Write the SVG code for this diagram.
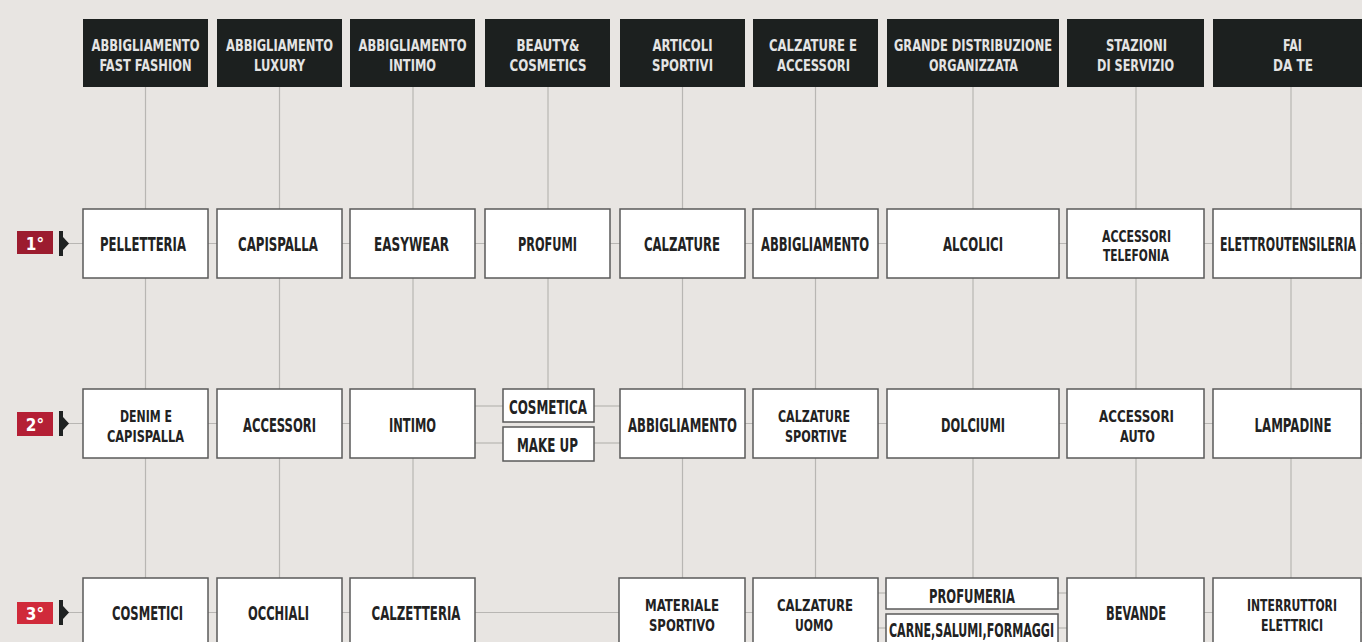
<svg xmlns="http://www.w3.org/2000/svg" width="1362" height="642" viewBox="0 0 1362 642">
<style>
.bg{fill:#e8e5e2}
.hd{fill:#1c201f}
.ht{font-family:"Liberation Sans Narrow","DejaVu Sans Condensed","Liberation Sans",sans-serif;font-weight:bold;font-size:16.5px;fill:#e4e4e4;text-anchor:middle}
.bx{fill:#ffffff;stroke:#5a5a5a;stroke-width:1.5}
.bt{font-family:"Liberation Sans Narrow","DejaVu Sans Condensed","Liberation Sans",sans-serif;font-weight:bold;font-size:19px;fill:#222222;text-anchor:middle}
.b2{font-family:"Liberation Sans Narrow","DejaVu Sans Condensed","Liberation Sans",sans-serif;font-weight:bold;font-size:16.5px;fill:#222222;text-anchor:middle}
.ln{stroke:#b8b6b3;stroke-width:1.2;fill:none}
.rk{font-family:"Liberation Sans Narrow","DejaVu Sans Condensed","Liberation Sans",sans-serif;font-weight:bold;font-size:17px;fill:#ffffff;text-anchor:middle}
.br{fill:#1f2222}
</style>
<rect class="bg" x="0" y="0" width="1362" height="642"/>

<g id="connectors">
  <line class="ln" x1="145.5" y1="87" x2="145.5" y2="578"/>
  <line class="ln" x1="279.5" y1="87" x2="279.5" y2="578"/>
  <line class="ln" x1="413" y1="87" x2="413" y2="578"/>
  <line class="ln" x1="548" y1="87" x2="548" y2="389"/>
  <line class="ln" x1="682.5" y1="87" x2="682.5" y2="578"/>
  <line class="ln" x1="815.5" y1="87" x2="815.5" y2="578"/>
  <line class="ln" x1="973" y1="87" x2="973" y2="578"/>
  <line class="ln" x1="1136" y1="87" x2="1136" y2="578"/>
  <line class="ln" x1="1291" y1="87" x2="1291" y2="578"/>
  <line class="ln" x1="68" y1="243.5" x2="1362" y2="243.5"/>
  <line class="ln" x1="68" y1="423.5" x2="475" y2="423.5"/>
  <line class="ln" x1="475" y1="406" x2="503" y2="406"/>
  <line class="ln" x1="475" y1="443" x2="503" y2="443"/>
  <line class="ln" x1="594" y1="406" x2="620" y2="406"/>
  <line class="ln" x1="594" y1="443" x2="620" y2="443"/>
  <line class="ln" x1="620" y1="423.5" x2="1362" y2="423.5"/>
  <line class="ln" x1="68" y1="612.5" x2="878" y2="612.5"/>
  <line class="ln" x1="878" y1="593" x2="886" y2="593"/>
  <line class="ln" x1="878" y1="628" x2="886" y2="628"/>
  <line class="ln" x1="1058" y1="593" x2="1067" y2="593"/>
  <line class="ln" x1="1058" y1="628" x2="1067" y2="628"/>
  <line class="ln" x1="1204" y1="612.5" x2="1362" y2="612.5"/>
</g>

<g id="rank1">
  <rect x="17" y="231" width="36" height="23" fill="#9c1c2f"/>
  <text class="rk" x="35" y="250">1°</text>
  <rect class="br" x="59" y="231" width="4" height="25"/>
  <polygon class="br" points="63,237 69,243.5 63,250"/>
</g>
<g id="rank2">
  <rect x="17" y="412" width="36" height="24" fill="#b41f35"/>
  <text class="rk" x="35" y="431">2°</text>
  <rect class="br" x="59" y="411" width="4" height="25"/>
  <polygon class="br" points="63,417 69,423.5 63,430"/>
</g>
<g id="rank3">
  <rect x="17" y="602" width="36" height="22" fill="#d02a3a"/>
  <text class="rk" x="35" y="620">3°</text>
  <rect class="br" x="59" y="600" width="4" height="25"/>
  <polygon class="br" points="63,606 69,612.5 63,619"/>
</g>

<!-- headers -->
<g id="h1"><rect class="hd" x="83" y="19" width="125" height="68"/><text class="ht" x="145.5" y="51" textLength="108" lengthAdjust="spacingAndGlyphs">ABBIGLIAMENTO</text><text class="ht" x="145.5" y="70.5" textLength="92" lengthAdjust="spacingAndGlyphs">FAST FASHION</text></g>
<g id="h2"><rect class="hd" x="217" y="19" width="125" height="68"/><text class="ht" x="279.5" y="51" textLength="107" lengthAdjust="spacingAndGlyphs">ABBIGLIAMENTO</text><text class="ht" x="279.5" y="70.5" textLength="51" lengthAdjust="spacingAndGlyphs">LUXURY</text></g>
<g id="h3"><rect class="hd" x="350" y="19" width="125" height="68"/><text class="ht" x="412.5" y="51" textLength="108" lengthAdjust="spacingAndGlyphs">ABBIGLIAMENTO</text><text class="ht" x="412.5" y="70.5" textLength="47" lengthAdjust="spacingAndGlyphs">INTIMO</text></g>
<g id="h4"><rect class="hd" x="485" y="19" width="125" height="68"/><text class="ht" x="548" y="51" textLength="63" lengthAdjust="spacingAndGlyphs">BEAUTY&amp;</text><text class="ht" x="548" y="70.5" textLength="77" lengthAdjust="spacingAndGlyphs">COSMETICS</text></g>
<g id="h5"><rect class="hd" x="620" y="19" width="125" height="68"/><text class="ht" x="682.5" y="51" textLength="60" lengthAdjust="spacingAndGlyphs">ARTICOLI</text><text class="ht" x="682.5" y="70.5" textLength="61" lengthAdjust="spacingAndGlyphs">SPORTIVI</text></g>
<g id="h6"><rect class="hd" x="753" y="19" width="125" height="68"/><text class="ht" x="813" y="51" textLength="88" lengthAdjust="spacingAndGlyphs">CALZATURE E</text><text class="ht" x="813.5" y="70.5" textLength="73" lengthAdjust="spacingAndGlyphs">ACCESSORI</text></g>
<g id="h7"><rect class="hd" x="887" y="19" width="172" height="68"/><text class="ht" x="973" y="51" textLength="158" lengthAdjust="spacingAndGlyphs">GRANDE DISTRIBUZIONE</text><text class="ht" x="973.5" y="70.5" textLength="89" lengthAdjust="spacingAndGlyphs">ORGANIZZATA</text></g>
<g id="h8"><rect class="hd" x="1067" y="19" width="137" height="68"/><text class="ht" x="1136.5" y="51" textLength="61" lengthAdjust="spacingAndGlyphs">STAZIONI</text><text class="ht" x="1135.5" y="70.5" textLength="77" lengthAdjust="spacingAndGlyphs">DI SERVIZIO</text></g>
<g id="h9"><rect class="hd" x="1213" y="19" width="149" height="68"/><text class="ht" x="1292.5" y="51" textLength="19" lengthAdjust="spacingAndGlyphs">FAI</text><text class="ht" x="1293" y="70.5" textLength="40" lengthAdjust="spacingAndGlyphs">DA TE</text></g>

<!-- row 1 -->
<g id="r1c1"><rect class="bx" x="83" y="209" width="125" height="69"/><text class="bt" x="143" y="251" textLength="86" lengthAdjust="spacingAndGlyphs">PELLETTERIA</text></g>
<g id="r1c2"><rect class="bx" x="217" y="209" width="125" height="69"/><text class="bt" x="278" y="251" textLength="80" lengthAdjust="spacingAndGlyphs">CAPISPALLA</text></g>
<g id="r1c3"><rect class="bx" x="350" y="209" width="125" height="69"/><text class="bt" x="411.5" y="251" textLength="75" lengthAdjust="spacingAndGlyphs">EASYWEAR</text></g>
<g id="r1c4"><rect class="bx" x="485" y="209" width="125" height="69"/><text class="bt" x="547.5" y="251" textLength="59" lengthAdjust="spacingAndGlyphs">PROFUMI</text></g>
<g id="r1c5"><rect class="bx" x="620" y="209" width="125" height="69"/><text class="bt" x="682" y="251" textLength="76" lengthAdjust="spacingAndGlyphs">CALZATURE</text></g>
<g id="r1c6"><rect class="bx" x="753" y="209" width="125" height="69"/><text class="bt" x="815" y="251" textLength="108" lengthAdjust="spacingAndGlyphs">ABBIGLIAMENTO</text></g>
<g id="r1c7"><rect class="bx" x="887" y="209" width="172" height="69"/><text class="bt" x="973" y="251" textLength="60" lengthAdjust="spacingAndGlyphs">ALCOLICI</text></g>
<g id="r1c8"><rect class="bx" x="1067" y="209" width="137" height="69"/><text class="b2" x="1136.5" y="241.5" textLength="69" lengthAdjust="spacingAndGlyphs">ACCESSORI</text><text class="b2" x="1136" y="261" textLength="66" lengthAdjust="spacingAndGlyphs">TELEFONIA</text></g>
<g id="r1c9"><rect class="bx" x="1213" y="209" width="148" height="69"/><text class="bt" x="1288" y="251" textLength="136" lengthAdjust="spacingAndGlyphs">ELETTROUTENSILERIA</text></g>

<!-- row 2 -->
<g id="r2c1"><rect class="bx" x="83" y="389" width="125" height="69"/><text class="b2" x="146" y="422" textLength="52" lengthAdjust="spacingAndGlyphs">DENIM E</text><text class="b2" x="145.5" y="442" textLength="77" lengthAdjust="spacingAndGlyphs">CAPISPALLA</text></g>
<g id="r2c2"><rect class="bx" x="217" y="389" width="125" height="69"/><text class="bt" x="279.5" y="432" textLength="73" lengthAdjust="spacingAndGlyphs">ACCESSORI</text></g>
<g id="r2c3"><rect class="bx" x="350" y="389" width="125" height="69"/><text class="bt" x="412.5" y="432" textLength="47" lengthAdjust="spacingAndGlyphs">INTIMO</text></g>
<g id="r2c4a"><rect class="bx" x="503" y="389" width="91" height="33"/><text class="bt" x="548" y="413.5" textLength="78" lengthAdjust="spacingAndGlyphs">COSMETICA</text></g>
<g id="r2c4b"><rect class="bx" x="503" y="427" width="91" height="34"/><text class="bt" x="547.5" y="452" textLength="61" lengthAdjust="spacingAndGlyphs">MAKE UP</text></g>
<g id="r2c5"><rect class="bx" x="620" y="389" width="125" height="69"/><text class="bt" x="682.5" y="432" textLength="109" lengthAdjust="spacingAndGlyphs">ABBIGLIAMENTO</text></g>
<g id="r2c6"><rect class="bx" x="753" y="389" width="125" height="69"/><text class="b2" x="814" y="422" textLength="72" lengthAdjust="spacingAndGlyphs">CALZATURE</text><text class="b2" x="816" y="442" textLength="62" lengthAdjust="spacingAndGlyphs">SPORTIVE</text></g>
<g id="r2c7"><rect class="bx" x="887" y="389" width="172" height="69"/><text class="bt" x="973" y="432" textLength="64" lengthAdjust="spacingAndGlyphs">DOLCIUMI</text></g>
<g id="r2c8"><rect class="bx" x="1067" y="389" width="137" height="69"/><text class="b2" x="1136.5" y="422" textLength="75" lengthAdjust="spacingAndGlyphs">ACCESSORI</text><text class="b2" x="1137.5" y="442" textLength="35" lengthAdjust="spacingAndGlyphs">AUTO</text></g>
<g id="r2c9"><rect class="bx" x="1213" y="389" width="148" height="69"/><text class="bt" x="1293" y="432" textLength="77" lengthAdjust="spacingAndGlyphs">LAMPADINE</text></g>

<!-- row 3 -->
<g id="r3c1"><rect class="bx" x="83" y="578" width="125" height="69"/><text class="bt" x="147.5" y="620" textLength="71" lengthAdjust="spacingAndGlyphs">COSMETICI</text></g>
<g id="r3c2"><rect class="bx" x="217" y="578" width="125" height="69"/><text class="bt" x="278.5" y="620" textLength="61" lengthAdjust="spacingAndGlyphs">OCCHIALI</text></g>
<g id="r3c3"><rect class="bx" x="350" y="578" width="125" height="69"/><text class="bt" x="416" y="620" textLength="89" lengthAdjust="spacingAndGlyphs">CALZETTERIA</text></g>
<g id="r3c5"><rect class="bx" x="619" y="578" width="126" height="69"/><text class="b2" x="682" y="611" textLength="74" lengthAdjust="spacingAndGlyphs">MATERIALE</text><text class="b2" x="682" y="630.5" textLength="66" lengthAdjust="spacingAndGlyphs">SPORTIVO</text></g>
<g id="r3c6"><rect class="bx" x="753" y="578" width="125" height="69"/><text class="b2" x="815" y="611" textLength="76" lengthAdjust="spacingAndGlyphs">CALZATURE</text><text class="b2" x="814" y="630.5" textLength="38" lengthAdjust="spacingAndGlyphs">UOMO</text></g>
<g id="r3c7a"><rect class="bx" x="886" y="578" width="172" height="31"/><text class="bt" x="972" y="603" textLength="86" lengthAdjust="spacingAndGlyphs">PROFUMERIA</text></g>
<g id="r3c7b"><rect class="bx" x="886" y="614" width="172" height="34"/><text class="bt" x="971.5" y="637" textLength="165" lengthAdjust="spacingAndGlyphs">CARNE,SALUMI,FORMAGGI</text></g>
<g id="r3c8"><rect class="bx" x="1067" y="578" width="137" height="69"/><text class="bt" x="1136" y="620" textLength="60" lengthAdjust="spacingAndGlyphs">BEVANDE</text></g>
<g id="r3c9"><rect class="bx" x="1213" y="578" width="148" height="69"/><text class="b2" x="1292" y="611" textLength="90" lengthAdjust="spacingAndGlyphs">INTERRUTTORI</text><text class="b2" x="1292" y="630.5" textLength="62" lengthAdjust="spacingAndGlyphs">ELETTRICI</text></g>
</svg>
